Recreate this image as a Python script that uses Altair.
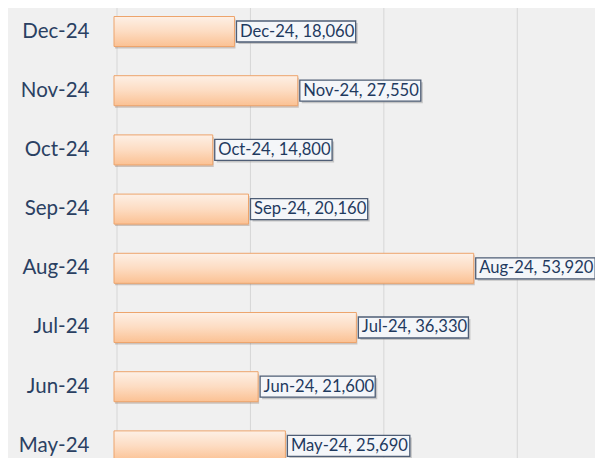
import altair as alt
import pandas as pd

months = ["Dec-24", "Nov-24", "Oct-24", "Sep-24", "Aug-24", "Jul-24", "Jun-24", "May-24"]
values = [18060, 27550, 14800, 20160, 53920, 36330, 21600, 25690]
grid_ticks = [0, 20000, 40000, 60000]

labels = [f"{m}, {v:,}" for m, v in zip(months, values)]
df = pd.DataFrame({"month": months, "value": values, "label": labels})
grid_df = pd.DataFrame({"tick": grid_ticks})

FONT = "Lato"
LABEL_SIZE = 16.6
# approximate Lato Regular advance widths (em)
CW = {"D": .735, "N": .765, "O": .80, "S": .53, "A": .685, "J": .38, "M": .925,
      "e": .52, "c": .46, "o": .555, "v": .505, "t": .345, "p": .545, "u": .545,
      "g": .50, "l": .24, "n": .545, "a": .48, "y": .505, "-": .37, ",": .21, " ": .193}


def text_w(s):
    return sum(CW.get(ch, .58) for ch in s) * LABEL_SIZE


PAD = 3.5
GAP = 2

xscale = alt.Scale(domain=[0, 72100], nice=False, zero=True)
yscale = alt.Scale(domain=months, range=[8.5, 452.9], paddingInner=0.493, paddingOuter=0)

X = alt.X("value:Q", scale=xscale, axis=None)
Y = alt.Y("month:N", sort=months, scale=yscale,
          axis=alt.Axis(title=None, domain=False, ticks=False, grid=False,
                        labelFont=FONT, labelFontSize=20.5, labelFontWeight="normal",
                        labelColor="#2a4062", labelPadding=25))

grid = alt.Chart(grid_df).mark_rule(color="#d6d6d6", strokeWidth=1, xOffset=3).encode(
    x=alt.X("tick:Q", scale=xscale, axis=None),
    y=alt.value(0), y2=alt.value(450)
)

bar_shadow = alt.Chart(df).mark_bar(color="#7a5a45", opacity=0.3, xOffset=1, yOffset=2).encode(
    x=X, y=Y
)

bars = alt.Chart(df).mark_bar(
    color=alt.Gradient(gradient="linear", x1=0, x2=0, y1=0, y2=1,
                       stops=[alt.GradientStop(offset=0, color="#fdf0e6"),
                              alt.GradientStop(offset=0.5, color="#fddcc2"),
                              alt.GradientStop(offset=1, color="#fbc193")]),
    stroke="#eda46c", strokeWidth=1
).encode(x=X, y=Y)

layers = [grid, bar_shadow, bars]

for m, lab in zip(months, labels):
    w = text_w(lab) + 2 * PAD
    sub = alt.Chart(df).transform_filter(alt.datum.month == m)
    layers.append(sub.mark_bar(color="#9a9a9a", opacity=0.5, height=21,
                               xOffset=GAP + 2, x2Offset=GAP + 2 + w, yOffset=2).encode(
        x=X, x2="value:Q", y=Y))
    layers.append(sub.mark_bar(color="#f4f6f9", stroke="#4e5d75", strokeWidth=1.3, height=21,
                               xOffset=GAP, x2Offset=GAP + w).encode(
        x=X, x2="value:Q", y=Y))

text = alt.Chart(df).mark_text(align="left", baseline="middle", dx=GAP + PAD,
                               font=FONT, fontSize=LABEL_SIZE, color="#1f3a5f").encode(
    x=X, y=Y, text="label:N")
layers.append(text)

chart = alt.layer(*layers).properties(
    width=481, height=450,
    autosize=alt.AutoSizeParams(type="none"),
    padding={"left": 106, "top": 0, "right": 0, "bottom": 0},
    background="#f0f0f0"
).configure_view(stroke=None)

chart.save("out.html", embed_options={"renderer": "svg", "actions": False})
